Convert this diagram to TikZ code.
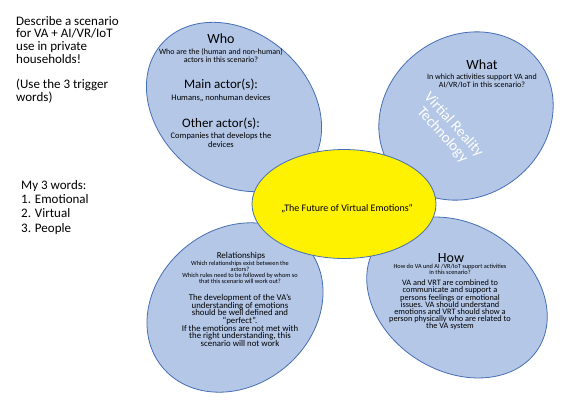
\documentclass[tikz,border=0pt]{standalone}
\usepackage{fontspec}
\setmainfont{Carlito}
\usetikzlibrary{shapes.geometric}
\definecolor{petalfill}{RGB}{180,199,231}
\definecolor{petalline}{RGB}{70,110,180}
\newcommand{\fsz}[2]{\fontsize{#1}{#2}\selectfont}
\begin{document}
\begin{tikzpicture}[x=1pt,y=1pt,
  petal/.style={ellipse,draw=petalline,fill=petalfill,line width=0.8pt,inner sep=0pt},
  core/.style={ellipse,draw=petalline,fill=yellow,line width=0.8pt,inner sep=0pt},
  lbl/.style={align=center,inner sep=0pt,text=black}]
\useasboundingbox (0,0) rectangle (575,408);
% the four petals
\node[petal,minimum width=192pt,minimum height=150pt,rotate=-41] (who) at (234,301) {};
\node[petal,minimum width=182pt,minimum height=160pt,rotate=37] (what) at (466,292) {};
\node[petal,minimum width=188pt,minimum height=156pt,rotate=39] (rel) at (235,100.5) {};
\node[petal,minimum width=192pt,minimum height=147pt,rotate=-32] (how) at (457,110.5) {};
\node[core,minimum width=184pt,minimum height=109pt] (future) at (344,204) {};
% who
\node[lbl,font=\fsz{14}{14}] (whohead) at (221,369) {Who};
\node[lbl,font=\fsz{8}{8}] (whoq) at (221,352) {Who are the (human and non-human)\\actors in this scenario?};
\node[lbl,font=\fsz{13}{13}] (mainhead) at (221,323) {Main actor(s):};
\node[lbl,font=\fsz{8.5}{9}] (maintxt) at (221,310) {Humans,, nonhuman devices};
\node[lbl,font=\fsz{13}{13}] (otherhead) at (221,284) {Other actor(s):};
\node[lbl,font=\fsz{8.5}{9}] (othertxt) at (221,267.5) {Companies that develops the\\devices};
% what
\node[lbl,font=\fsz{14}{14}] (whathead) at (482,343) {What};
\node[lbl,font=\fsz{8}{8}] (whatq) at (482,327) {In which activities support VA and\\AI/VR/IoT in this scenario?};
\node[lbl,text=white,font=\fsz{15}{15},rotate=-48] (vrt) at (448,278) {Virtial Reality\\Technology};
% relationships
\node[lbl,font=\fsz{9}{9}] (relhead) at (241,152) {Relationships};
\node[lbl,font=\fsz{6.3}{6}] (relq) at (240,135.5) {Which relationships exist between the\\actors?\\Which rules need to be followed by whom so\\that this scenario will work out?};
\node[lbl,font=\fsz{8.8}{7.7}] (reltxt) at (240,87.5) {The development of the VA's\\understanding of emotions\\should be well defined and\\``perfect''.\\If the emotions are not met with\\the right understanding, this\\scenario will not work};
% how
\node[lbl,font=\fsz{14}{14}] (howhead) at (451,150) {How};
\node[lbl,font=\fsz{6.3}{6.2}] (howq) at (450,139) {How do VA und AI /VR/IoT support activities\\in this scenario?};
\node[lbl,font=\fsz{8.3}{7.2}] (howtxt) at (450,103) {VA and VRT are combined to\\communicate and support a\\persons feelings or emotional\\issues. VA should understand\\emotions and VRT should show a\\person physically who are related to\\the VA system};
% centre
\node[lbl,font=\fsz{10}{10}] (title) at (347,199) {„The Future of Virtual Emotions“};
% left side
\node[anchor=north west,align=left,inner sep=0pt,font=\fsz{13}{12.7}] (task) at (16,392)
  {Describe a scenario\\for VA + AI/VR/IoT\\use in private\\households!\\[12.7pt](Use the 3 trigger\\words)};
\node[anchor=north west,align=left,inner sep=0pt,font=\fsz{13}{14.3}] (words) at (21,228)
  {My 3 words:\\1. Emotional\\2. Virtual\\3. People};
\end{tikzpicture}
\end{document}
